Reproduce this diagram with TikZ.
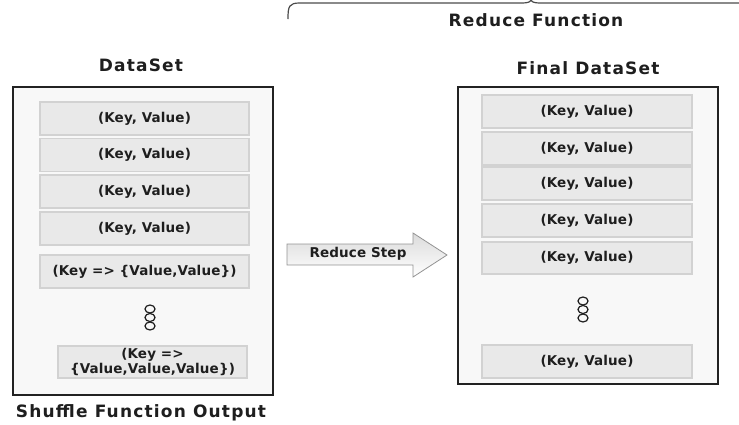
\documentclass[tikz,border=0pt]{standalone}
\usepackage{fontspec}
\setmainfont{DejaVu Sans}
\newfontfamily\titlefont[LetterSpace=7]{DejaVu Sans Bold}
\newfontfamily\itemfont[LetterSpace=1]{DejaVu Sans Bold}
\usepackage{tikz}
\usetikzlibrary{positioning}
\definecolor{framegrey}{HTML}{222222}
\definecolor{setfill}{HTML}{F8F8F8}
\definecolor{kvfill}{HTML}{E9E9E9}
\definecolor{kvedge}{HTML}{D2D2D2}
\definecolor{textgrey}{HTML}{1E1E1E}
\tikzset{
  settitle/.style={
    font=\titlefont\fontsize{17}{19}\selectfont, text=textgrey, inner sep=0pt
  },
  setbox/.style={
    rectangle, draw=framegrey, fill=setfill, line width=2pt,
    minimum width=260pt
  },
  kvbox/.style={
    rectangle, draw=kvedge, fill=kvfill, line width=1.2pt,
    minimum width=209pt, minimum height=33pt, align=center,
    font=\itemfont\fontsize{13.5}{16}\selectfont, text=textgrey,
    inner sep=1pt
  },
  moredots/.style={
    draw=textgrey, line width=1.2pt
  },
}

\begin{document}
\begin{tikzpicture}[x=1pt, y=-1pt]
  \useasboundingbox (0,0) rectangle (739,424);

  % top brace
  \node[settitle] (redfn) at (536,20) {Reduce Function};
  \draw[textgrey!80, line width=1.2pt]
    (288,19) .. controls (288,6) and (289,3) .. (300,3) -- (522,3)
    .. controls (528,3) and (531,2) .. (531,-1)
    .. controls (531,2) and (534,3) .. (540,3) -- (745,3);

  % shuffle output
  \node[settitle] (dstitle) at (141,65) {DataSet};
  \node[setbox, minimum height=308pt] (dsbox) at (143,241) {};
  \node[kvbox] (kv1) at (144.5,118.5) {(Key, Value)};
  \node[kvbox] (kv2) at (144.5,155) {(Key, Value)};
  \node[kvbox] (kv3) at (144.5,191.5) {(Key, Value)};
  \node[kvbox] (kv4) at (144.5,228.5) {(Key, Value)};
  \node[kvbox] (kv5) at (144.5,271.5) {(Key => \{Value,Value\})};
  \node[kvbox, minimum width=189pt, minimum height=32pt] (kvlast) at (152.5,362)
    {(Key =>\\[-1pt]\{Value,Value,Value\})};
  \draw[moredots] (150,309) ellipse (5 and 4);
  \draw[moredots] (150,317.5) ellipse (5 and 4);
  \draw[moredots] (150,326) ellipse (5 and 4);
  \node[settitle] (shuffle) at (141,413) {Shuffle Function Output};

  % reduce step arrow
  \draw[kvedge!70!black, line width=0.8pt, top color=kvedge!80, bottom color=white]
    (287,244) -- (413,244) -- (413,233) -- (447,255) -- (413,277)
    -- (413,265) -- (287,265) -- cycle;
  \node[font=\itemfont\fontsize{13.5}{16}\selectfont, text=textgrey] (step) at (358,254) {Reduce Step};

  % final data set
  \node[settitle] (fdstitle) at (588,68) {Final DataSet};
  \node[setbox, minimum height=297pt] (fdsbox) at (588,235.5) {};
  \node[kvbox, minimum width=210pt] (fkv1) at (587,111.5) {(Key, Value)};
  \node[kvbox, minimum width=210pt] (fkv2) at (587,148.5) {(Key, Value)};
  \node[kvbox, minimum width=210pt] (fkv3) at (587,183.5) {(Key, Value)};
  \node[kvbox, minimum width=210pt] (fkv4) at (587,220.5) {(Key, Value)};
  \node[kvbox, minimum width=210pt, minimum height=32pt] (fkv5) at (587,258) {(Key, Value)};
  \draw[moredots] (583,301) ellipse (5 and 4);
  \draw[moredots] (583,309.5) ellipse (5 and 4);
  \draw[moredots] (583,318) ellipse (5 and 4);
  \node[kvbox, minimum width=210pt] (fkvlast) at (587,361.5) {(Key, Value)};
\end{tikzpicture}
\end{document}
